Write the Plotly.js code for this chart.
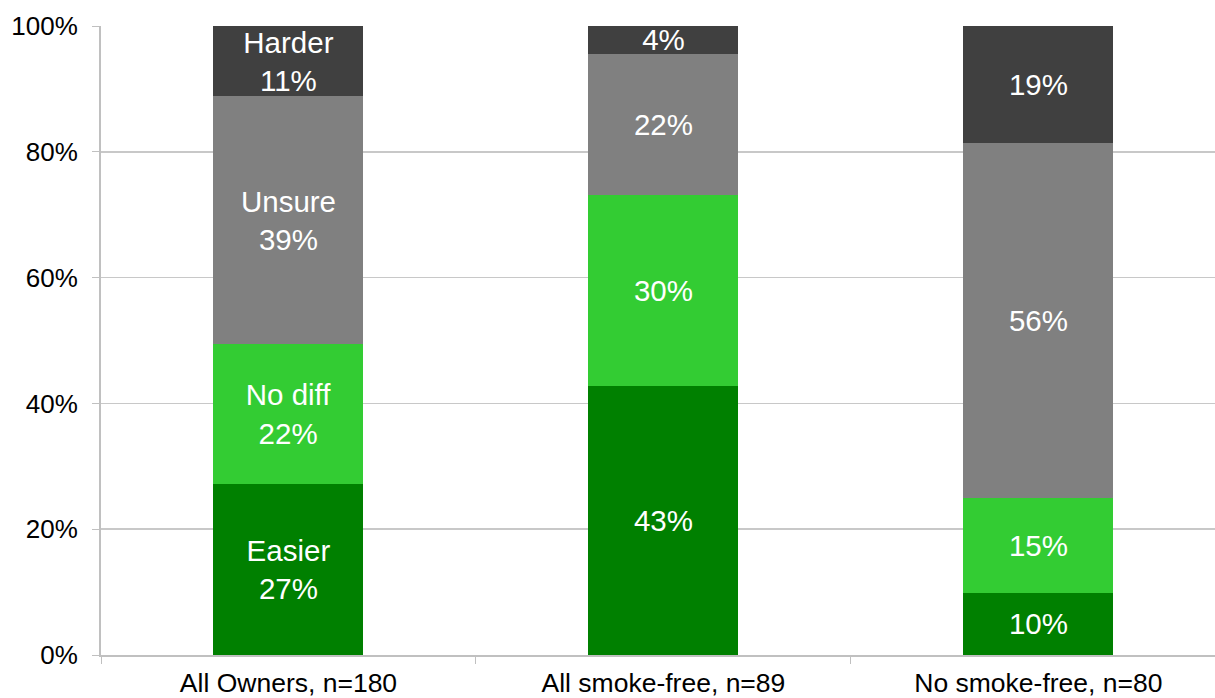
<!DOCTYPE html>
<html>
<head>
<meta charset="utf-8">
<script src="https://cdn.plot.ly/plotly-3.0.1.min.js"></script>
<style>html,body{margin:0;padding:0;background:#fff;}#chart{width:1215px;height:698px;}</style>
</head>
<body>
<div id="chart"></div>
<script>
var categories = ['All Owners, n=180', 'All smoke-free, n=89', 'No smoke-free, n=80'];
var seriesNames = ['Easier', 'No diff', 'Unsure', 'Harder'];
var easier = [27.2, 42.8, 9.9];
var noDiff = [22.2, 30.4, 15.1];
var unsure = [39.4, 22.4, 56.4];
var harder = [11.2, 4.4, 18.6];
var yTicks = [0, 20, 40, 60, 80, 100];

var colors = ['#008000', '#33CC33', '#808080', '#404040'];
var values = [easier, noDiff, unsure, harder];

var traces = values.map(function (vals, s) {
  return {
    type: 'bar',
    name: seriesNames[s],
    x: categories,
    y: vals,
    marker: { color: colors[s], line: { width: 0 } },
    texttemplate: categories.map(function (c, i) {
      return i === 0 ? seriesNames[s] + '<br>%{y:.0f}%' : '%{y:.0f}%';
    }),
    textposition: 'inside',
    insidetextanchor: 'middle',
    textangle: 0,
    textfont: { family: 'Liberation Sans, Arial, sans-serif', size: 29.5, color: '#ffffff' },
    hoverinfo: 'skip'
  };
});

var layout = {
  width: 1215,
  height: 698,
  margin: { l: 101, r: 0, t: 26, b: 43, pad: 0 },
  barmode: 'stack',
  bargap: 0.6,
  showlegend: false,
  paper_bgcolor: '#ffffff',
  plot_bgcolor: '#ffffff',
  uniformtext: { mode: 'show', minsize: 29.5 },
  font: { family: 'Liberation Sans, Arial, sans-serif', color: '#000000' },
  xaxis: {
    type: 'category',
    range: [-0.5, 2.471],
    showline: true,
    linecolor: '#c0c0c0',
    linewidth: 2,
    ticks: 'outside',
    tickson: 'boundaries',
    ticklen: 7,
    tickcolor: '#c0c0c0',
    tickwidth: 1,
    showgrid: false,
    tickfont: { size: 26.5, color: '#000000' },
    ticklabelstandoff: 3,
    fixedrange: true
  },
  yaxis: {
    range: [0, 100],
    tickvals: yTicks,
    ticktext: yTicks.map(function (v) { return v + '%'; }),
    showline: true,
    linecolor: '#c0c0c0',
    linewidth: 2,
    ticks: 'outside',
    ticklen: 7,
    tickcolor: '#c0c0c0',
    showgrid: true,
    gridcolor: '#c8c8c8',
    gridwidth: 1.5,
    zeroline: false,
    tickfont: { size: 26, color: '#000000' },
    ticklabelstandoff: 9,
    fixedrange: true
  }
};

Plotly.newPlot('chart', traces, layout, { displayModeBar: false, staticPlot: true });
</script>
</body>
</html>
